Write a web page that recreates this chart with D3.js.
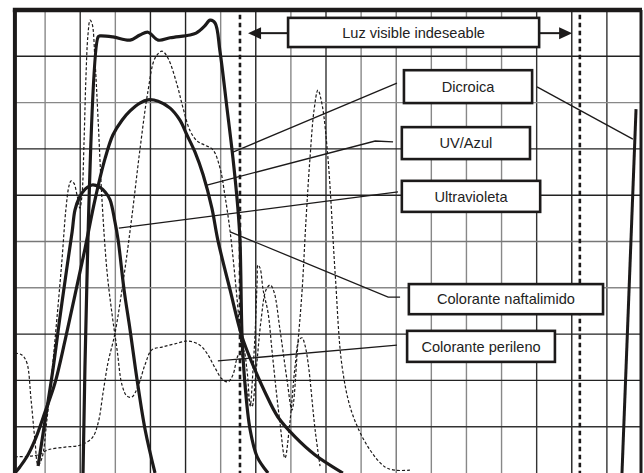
<!DOCTYPE html>
<html><head><meta charset="utf-8">
<script src="https://cdn.jsdelivr.net/npm/d3@7"></script>
<style>body{margin:0;background:#fff}svg{display:block}text{font-family:"Liberation Sans",Arial,Helvetica,sans-serif}</style>
</head><body><svg id="c" width="644" height="473"></svg>
<script>
// grid ticks (data units)
const xGrid = d3.range(10, 180, 10);
const yGrid = d3.range(10, 100, 10);
const xGridShade = ["#888","#333","#888","#222","#222","#888","#222","#888","#333","#888","#777","#888","#888","#888","#333","#222","#333"];
const yGridShade = ["#333","#222","#222","#888","#777","#222","#222","#888","#222"];

// series
const dicroica = [[20.8,0],[25.1,94.2],[25.6,94.4],[29.3,94.2],[34.2,93.5],[37.0,94.6],[39.3,95.2],[42.2,93.5],[45.6,94.0],[51.3,94.6],[53.0,95.0],[54.1,95.6],[55.5,96.6],[57.0,97.8],[58.4,97.2],[59.8,91.1],[61.8,78.8],[63.5,68.0],[64.9,57.2],[65.5,50.3],[66.1,29.4],[66.9,19.4],[68.4,9.3],[70.4,3.5],[73.5,0]];
const dicroicaIR = [[174.3,0],[178.3,78.6]];
const uvAzul = [[1.4,0],[2.8,1.3],[4.8,3.5],[7.1,7.1],[10.0,13.2],[12.8,19.4],[15.7,28.7],[18.5,38.4],[21.4,48.6],[24.2,59.0],[27.1,68.0],[29.3,73.0],[31.9,76.2],[34.2,78.2],[37.0,79.9],[39.3,80.6],[42.2,80.3],[45.6,78.8],[48.4,76.2],[50.4,73.0],[52.7,69.3],[55.0,64.4],[57.5,57.2],[59.2,50.3],[62.7,39.5],[66.1,29.4],[69.8,22.2],[72.6,17.5],[76.3,12.1],[81.2,7.8],[86.9,3.9],[94.8,0]];
const ultravioleta = [[8.0,1.5],[10.0,11.4],[12.2,22.2],[14.2,33.5],[16.2,44.3],[17.7,52.1],[18.5,56.8],[19.7,59.4],[21.4,61.3],[23.4,62.2],[25.4,61.8],[27.1,60.7],[28.5,59.0],[29.9,54.2],[30.8,50.3],[32.5,39.5],[34.2,30.9],[36.2,20.1],[38.5,9.3],[41.3,0]];
const naftalimido = [[1.4,3.5],[8.0,3.9],[10.8,5.0],[15.7,5.6],[19.9,6.0],[23.4,7.6],[25.1,10.8],[26.5,17.3],[27.9,23.8],[29.9,30.2],[32.5,42.8],[34.7,55.3],[37.0,69.8],[39.3,82.5],[41.3,89.6],[43.3,91.1],[45.0,89.6],[47.6,83.8],[49.3,78.8],[51.3,73.9],[53.3,71.7],[55.5,70.8],[57.8,69.8],[59.8,65.9],[61.2,60.0],[62.7,52.1],[64.7,37.4],[65.8,27.6],[66.9,20.1],[68.1,15.8],[68.9,14.3],[70.1,22.2],[71.5,33.0],[72.9,39.5],[74.1,40.6],[75.2,39.1],[76.9,30.9],[78.9,20.1],[80.3,13.6],[82.0,28.1],[83.2,39.5],[84.3,54.6],[85.4,67.6],[86.6,78.4],[87.7,82.7],[88.9,79.5],[90.6,67.6],[92.6,43.2],[94.6,22.9],[97.4,13.0],[102.0,5.6],[106.8,1.3],[109.7,0.6],[113.9,0.6]];
const perileno = [[1.4,25.9],[3.4,25.5],[4.8,23.8],[6.0,15.8],[7.1,7.1],[8.0,1.7],[9.1,3.2],[10.5,11.4],[12.0,22.2],[13.4,33.7],[14.8,46.0],[15.9,56.8],[16.8,62.0],[17.4,63.1],[18.2,62.6],[19.1,60.0],[19.9,57.2],[20.5,60.0],[21.1,71.9],[21.6,84.9],[22.2,94.6],[22.8,97.8],[23.4,97.0],[24.2,89.2],[25.1,76.2],[26.2,59.0],[27.6,43.8],[29.1,34.1],[30.5,26.6],[31.9,19.0],[33.3,16.6],[34.7,16.4],[36.5,18.8],[38.5,23.5],[40.4,26.6],[43.3,27.2],[47.0,27.9],[50.7,28.5],[54.1,27.6],[56.4,25.5],[58.4,22.7],[60.4,20.3],[62.1,19.7],[63.5,21.2],[64.9,25.3],[66.4,26.6],[67.5,22.2],[68.4,14.5],[69.2,22.2],[69.8,30.2],[70.4,41.7],[70.6,44.9],[71.2,44.3],[72.1,39.5],[73.5,34.6],[74.6,26.6],[75.8,17.9],[76.9,10.8],[78.3,3.2],[79.7,10.8],[81.2,23.1],[82.3,28.7],[83.2,29.2],[84.0,27.6],[84.9,23.8],[86.9,9.3],[88.3,1.5]];

// markers and annotations
const visibleBounds = [65.5, 162.3];
const labels = ["Luz visible indeseable","Dicroica","UV/Azul","Ultravioleta","Colorante naftalimido","Colorante perileno"];
const boxX0 = [79.2,112.2,111.6,111.6,113.6,113.1];
const boxX1 = [150.7,148.7,148.1,151.0,168.9,155.2];
const boxY0 = [98.3,87.0,74.7,63.1,40.8,30.7];
const boxY1 = [92.0,79.9,67.8,56.4,34.3,24.0];
const leaders = [
  [[110.2,84.2],[63.5,69.3]],
  [[150.1,83.4],[177.4,72.1]],
  [[109.1,71.5],[104.0,71.7],[56.1,62.2]],
  [[110.5,60.7],[31.0,52.9]],
  [[111.1,38.0],[107.7,38.0],[62.7,52.1]],
  [[110.2,27.6],[59.2,24.2]]
];
const arrowY = 95.0;
const arrows = [[79.2,67.8],[150.7,160.1]];

const svg = d3.select("#c");
const x = d3.scaleLinear().domain([0,180]).range([10,642]);
const y = d3.scaleLinear().domain([0,100]).range([473,10]);
const ink = "#1c1a1a";

// grid
svg.append("g").selectAll("line").data(xGrid).join("line")
  .attr("x1",d=>x(d)).attr("x2",d=>x(d)).attr("y1",y(100)).attr("y2",y(0))
  .attr("stroke",(d,i)=>xGridShade[i]).attr("stroke-width",1.4);
svg.append("g").selectAll("line").data(yGrid).join("line")
  .attr("x1",x(1.4)).attr("x2",x(180)).attr("y1",d=>y(d)).attr("y2",d=>y(d))
  .attr("stroke",(d,i)=>yGridShade[i]).attr("stroke-width",1.4);

// frame
svg.append("line").attr("x1",x(0.8)).attr("x2",x(180)).attr("y1",y(100)).attr("y2",y(100)).attr("stroke",ink).attr("stroke-width",4.5);
svg.append("line").attr("x1",x(1.4)).attr("x2",x(1.4)).attr("y1",y(100)).attr("y2",y(0)).attr("stroke",ink).attr("stroke-width",4);
svg.append("line").attr("x1",x(180)-1).attr("x2",x(180)-1).attr("y1",y(100)).attr("y2",y(0)).attr("stroke",ink).attr("stroke-width",3);

// visible boundary markers
svg.append("g").selectAll("line").data(visibleBounds).join("line")
  .attr("x1",d=>x(d)).attr("x2",d=>x(d)).attr("y1",y(99)).attr("y2",y(0))
  .attr("stroke",ink).attr("stroke-width",2.6).attr("stroke-dasharray","4.5,3.5");

const line = d3.line().x(d=>x(d[0])).y(d=>y(d[1])).curve(d3.curveCatmullRom.alpha(0.5));
const poly = d3.line().x(d=>x(d[0])).y(d=>y(d[1]));

// dashed dye curves
[naftalimido, perileno].forEach(s=>{
  svg.append("path").attr("d",line(s)).attr("fill","none").attr("stroke",ink)
    .attr("stroke-width",1.2).attr("stroke-dasharray","3,2");
});
// solid filter curves
[uvAzul, ultravioleta].forEach(s=>{
  svg.append("path").attr("d",line(s)).attr("fill","none").attr("stroke",ink).attr("stroke-width",3.2);
});
svg.append("path").attr("d",line(dicroica)).attr("fill","none").attr("stroke",ink).attr("stroke-width",3.2).attr("stroke-linejoin","round");
svg.append("path").attr("d",poly(dicroicaIR)).attr("fill","none").attr("stroke",ink).attr("stroke-width",3);

// leaders
leaders.forEach(l=>{
  svg.append("path").attr("d",poly(l)).attr("fill","none").attr("stroke",ink).attr("stroke-width",1.3);
});

// arrows
arrows.forEach(a=>{
  const dir = Math.sign(a[1]-a[0]);
  const tip = x(a[1]), yy = y(arrowY);
  svg.append("line").attr("x1",x(a[0])).attr("x2",tip-dir*10).attr("y1",yy).attr("y2",yy).attr("stroke",ink).attr("stroke-width",2);
  svg.append("path").attr("d",`M${tip},${yy}L${tip-dir*13},${yy-6}L${tip-dir*13},${yy+6}Z`).attr("fill",ink);
});

// boxes
labels.forEach((t,i)=>{
  const x0=x(boxX0[i]), x1=x(boxX1[i]), y0=y(boxY0[i]), y1=y(boxY1[i]);
  svg.append("rect").attr("x",x0).attr("y",y0).attr("width",x1-x0).attr("height",y1-y0)
    .attr("fill","#fff").attr("stroke",ink).attr("stroke-width",2.6);
  svg.append("text").attr("x",(x0+x1)/2).attr("y",(y0+y1)/2).attr("dy","0.36em")
    .attr("text-anchor","middle").attr("font-size",14.6).attr("fill","#222").text(t);
});
</script></body></html>
